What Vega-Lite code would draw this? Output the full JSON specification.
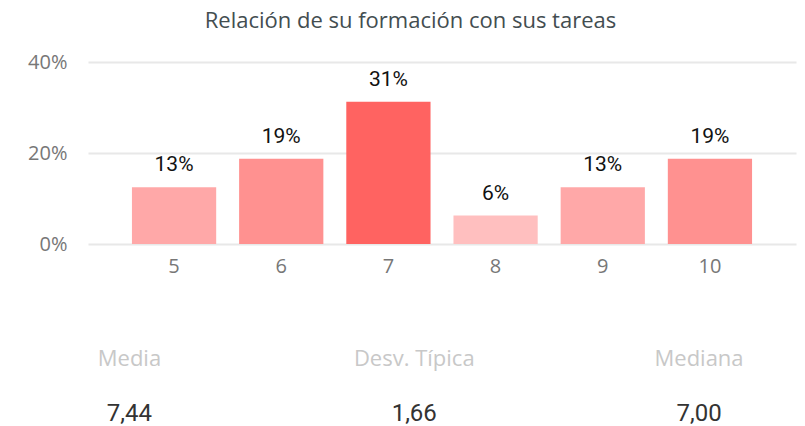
{
  "$schema": "https://vega.github.io/schema/vega-lite/v6.json",
  "background": "white",
  "padding": {"left": 5, "right": 5, "top": 9, "bottom": 5},
  "title": {
    "text": "Relación de su formación con sus tareas",
    "font": "Open Sans",
    "fontSize": 22,
    "fontWeight": "normal",
    "color": "#434d50",
    "anchor": "middle",
    "offset": 19.5,
    "dx": 8
  },
  "config": {
    "view": {"stroke": null},
    "concat": {"spacing": 71.5}
  },
  "vconcat": [
    {
      "width": 708,
      "height": 182,
      "data": {
        "values": [
          {"nota": "5", "pct": 0.125},
          {"nota": "6", "pct": 0.1875},
          {"nota": "7", "pct": 0.3125},
          {"nota": "8", "pct": 0.0625},
          {"nota": "9", "pct": 0.125},
          {"nota": "10", "pct": 0.1875}
        ]
      },
      "encoding": {
        "x": {
          "field": "nota",
          "type": "ordinal",
          "sort": ["5", "6", "7", "8", "9", "10"],
          "scale": {"paddingInner": 0.214, "paddingOuter": 0.41},
          "axis": {
            "title": null,
            "labelAngle": 0,
            "domain": false,
            "ticks": false,
            "labelPadding": 12,
            "labelFont": "Open Sans",
            "labelFontSize": 20,
            "labelColor": "#777777"
          }
        },
        "y": {
          "field": "pct",
          "type": "quantitative",
          "scale": {"domain": [0, 0.4], "nice": false},
          "axis": {
            "title": null,
            "values": [0, 0.2, 0.4],
            "format": ".0%",
            "domain": false,
            "ticks": false,
            "labelPadding": 21,
            "minExtent": 83,
            "labelFont": "Open Sans",
            "labelFontSize": 20,
            "labelColor": "#777777",
            "gridColor": "#e8e8e8",
            "gridWidth": 2
          }
        }
      },
      "layer": [
        {
          "mark": {"type": "bar"},
          "encoding": {
            "color": {
              "field": "pct",
              "type": "quantitative",
              "scale": {"domain": [0.0625, 0.3125], "range": ["#FFBFBF", "#FF6361"], "interpolate": "rgb"},
              "legend": null
            }
          }
        },
        {
          "mark": {
            "type": "text",
            "align": "center",
            "baseline": "alphabetic",
            "dy": -16,
            "font": "Roboto",
            "fontSize": 21,
            "color": "#111111"
          },
          "encoding": {
            "text": {"field": "pct", "type": "quantitative", "format": ".0%"}
          }
        }
      ]
    },
    {
      "width": 712,
      "height": 55,
      "data": {
        "values": [
          {"estadistico": "Media", "fila": "nombre", "texto": "Media"},
          {"estadistico": "Media", "fila": "valor", "texto": "7,44"},
          {"estadistico": "Desv. Típica", "fila": "nombre", "texto": "Desv. Típica"},
          {"estadistico": "Desv. Típica", "fila": "valor", "texto": "1,66"},
          {"estadistico": "Mediana", "fila": "nombre", "texto": "Mediana"},
          {"estadistico": "Mediana", "fila": "valor", "texto": "7,00"}
        ]
      },
      "encoding": {
        "x": {
          "field": "estadistico",
          "type": "nominal",
          "scale": {"type": "point", "domain": ["Media", "Desv. Típica", "Mediana"], "padding": 0.25, "align": 0.291},
          "axis": null
        },
        "y": {
          "field": "fila",
          "type": "nominal",
          "scale": {"type": "point", "domain": ["nombre", "valor"], "padding": 0},
          "axis": null
        },
        "text": {"field": "texto", "type": "nominal"}
      },
      "layer": [
        {
          "transform": [{"filter": "datum.fila === 'nombre'"}],
          "mark": {"type": "text", "baseline": "middle", "font": "Open Sans", "fontSize": 22, "color": "#c8c8c8"}
        },
        {
          "transform": [{"filter": "datum.fila === 'valor'"}],
          "mark": {"type": "text", "baseline": "middle", "font": "Roboto", "fontSize": 24, "color": "#333333"}
        }
      ]
    }
  ]
}
